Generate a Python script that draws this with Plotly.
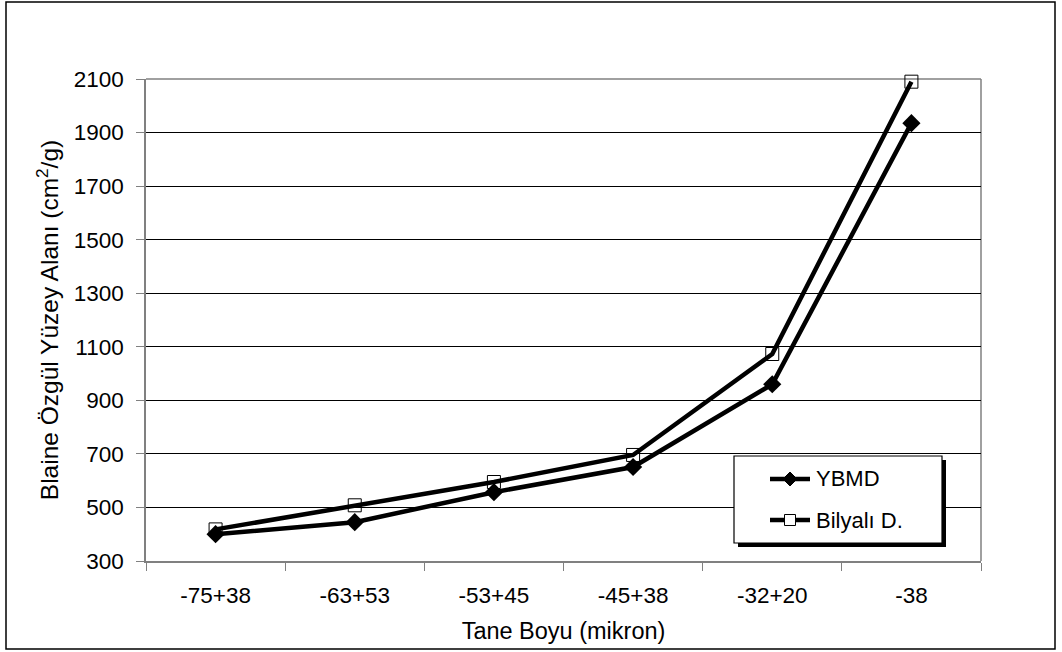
import plotly.graph_objects as go

# Particle size classes (micron) and Blaine specific surface values (cm2/g)
size_classes = ["-75+38", "-63+53", "-53+45", "-45+38", "-32+20", "-38"]
ybmd = [400, 445, 557, 651, 960, 1935]
bilyali = [418, 508, 595, 696, 1073, 2090]
y_ticks = [300, 500, 700, 900, 1100, 1300, 1500, 1700, 1900, 2100]
series_names = ["YBMD", "Bilyalı D."]

W, H = 1062, 652
L, R, T, B = 146, 81, 79, 91
pw, ph = W - L - R, H - T - B


def px_x(x):
    return (x - L) / pw


def px_y(y):
    return (H - B - y) / ph


FONT = "Liberation Sans, Arial, sans-serif"
FS = 22.5

fig = go.Figure()
fig.add_trace(go.Scatter(
    x=size_classes, y=ybmd, name=series_names[0], mode="lines+markers",
    line=dict(color="black", width=4.5), cliponaxis=False,
    marker=dict(symbol="diamond", size=14, color="black"),
))
fig.add_trace(go.Scatter(
    x=size_classes, y=bilyali, name=series_names[1], mode="lines+markers",
    line=dict(color="black", width=4.5), cliponaxis=False,
    marker=dict(symbol="square-open", size=13, color="black", line=dict(width=1)),
))


def rect(x0, y0, x1, y1, fill, line_color, lw):
    return dict(type="rect", xref="paper", yref="paper",
                x0=px_x(x0), x1=px_x(x1), y0=px_y(y1), y1=px_y(y0),
                fillcolor=fill, line=dict(color=line_color, width=lw), layer="above")


def seg(x0, y0, x1, y1, color, lw):
    return dict(type="line", xref="paper", yref="paper",
                x0=px_x(x0), x1=px_x(x1), y0=px_y(y0), y1=px_y(y1),
                line=dict(color=color, width=lw), layer="above")


# legend geometry (pixels)
LX0, LY0, LX1, LY1 = 734, 456, 942, 543
row_y = [479, 520]
sym_x0, sym_x1, sym_cx = 770, 810, 790

d = 7
diamond = dict(type="path", xref="paper", yref="paper", layer="above",
               path=("M {a},{b} L {c},{e} L {a},{f} L {g},{e} Z").format(
                   a=px_x(sym_cx), b=px_y(row_y[0] - d),
                   c=px_x(sym_cx + d), e=px_y(row_y[0]),
                   f=px_y(row_y[0] + d), g=px_x(sym_cx - d)),
               fillcolor="black", line=dict(color="black", width=1))

shapes = [
    # outer chart frame
    dict(type="rect", xref="paper", yref="paper",
         x0=px_x(6), x1=px_x(1055), y0=px_y(649), y1=px_y(2),
         line=dict(color="black", width=1.5), fillcolor="rgba(0,0,0,0)", layer="below"),
    # plot-area border on top and right
    dict(type="line", xref="paper", yref="paper", x0=0, x1=1, y0=1, y1=1,
         line=dict(color="#808080", width=1.5), layer="below"),
    dict(type="line", xref="paper", yref="paper", x0=1, x1=1, y0=0, y1=1,
         line=dict(color="#808080", width=1.5), layer="below"),
    # legend: shadow, box, symbols
    rect(LX0 + 4, LY0 + 4, LX1 + 4, LY1 + 4, "black", "black", 0),
    rect(LX0, LY0, LX1, LY1, "white", "black", 1.2),
    seg(sym_x0, row_y[0], sym_x1, row_y[0], "black", 4.5),
    diamond,
    seg(sym_x0, row_y[1], sym_x1, row_y[1], "black", 4.5),
    rect(sym_cx - 5.5, row_y[1] - 5.5, sym_cx + 5.5, row_y[1] + 5.5, "white", "black", 1),
]

annotations = [
    dict(text=name, xref="paper", yref="paper", x=px_x(814), y=px_y(ry),
         xanchor="left", yanchor="middle", showarrow=False,
         font=dict(family=FONT, size=22, color="black"))
    for name, ry in zip(series_names, row_y)
]

fig.update_layout(
    width=W, height=H,
    margin=dict(l=L, r=R, t=T, b=B),
    paper_bgcolor="white", plot_bgcolor="white",
    font=dict(family=FONT, size=FS, color="black"),
    showlegend=False,
    shapes=shapes,
    annotations=annotations,
    xaxis=dict(
        type="category", range=[-0.5, 5.5],
        showline=True, linecolor="#808080", linewidth=1.5,
        ticks="outside", ticklen=8, tickcolor="#808080", tickson="boundaries",
        showgrid=False, zeroline=False,
        tickfont=dict(size=FS), ticklabelstandoff=13,
        title=dict(text="Tane Boyu (mikron)", font=dict(size=23.5), standoff=16),
    ),
    yaxis=dict(
        range=[300, 2100], tickvals=y_ticks,
        showline=True, linecolor="#808080", linewidth=1.5,
        ticks="outside", ticklen=8, tickcolor="#808080",
        showgrid=True, gridcolor="black", gridwidth=1,
        zeroline=False, tickfont=dict(size=FS), ticklabelstandoff=8,
        title=dict(text="Blaine Özgül Yüzey Alanı (cm<sup>2</sup>/g)",
                   font=dict(size=24.5), standoff=8),
    ),
)

fig.write_html("out.html")
